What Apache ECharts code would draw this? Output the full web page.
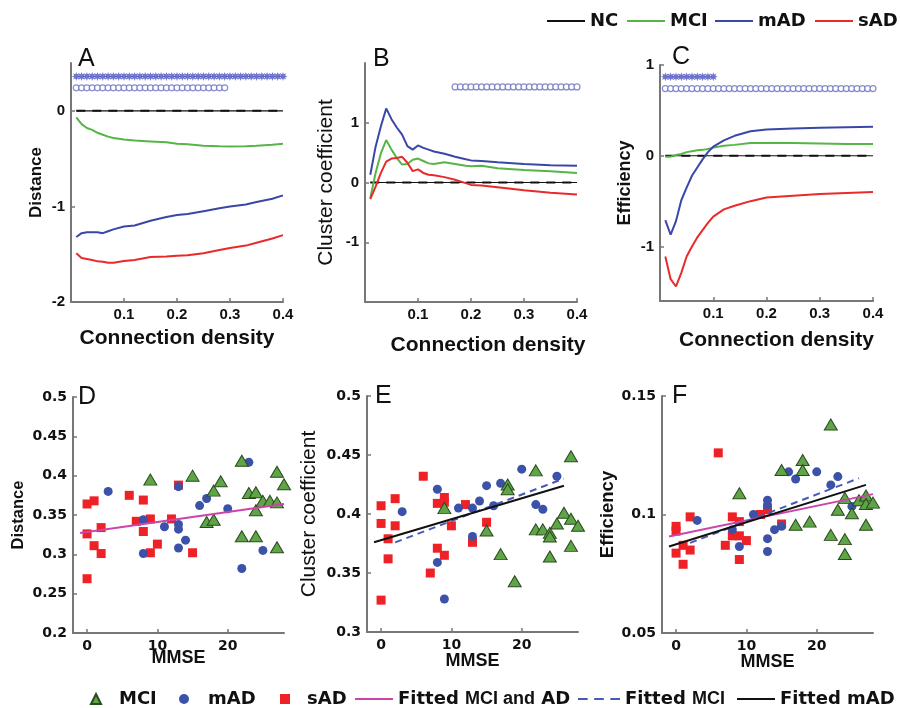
<!DOCTYPE html>
<html><head><meta charset="utf-8">
<script src="https://cdn.jsdelivr.net/npm/echarts@6/dist/echarts.min.js"></script>
<style>html,body{margin:0;padding:0;background:#fff}#c{width:900px;height:708px}</style>
</head><body><div id="c"></div><script>
// ---------- Panel A: Distance vs connection density ----------
const densA = [0.01,0.02,0.03,0.04,0.05,0.06,0.07,0.08,0.10,0.12,0.15,0.18,0.20,0.22,0.25,0.28,0.30,0.33,0.35,0.38,0.40];
const mciA  = [-0.07,-0.14,-0.18,-0.20,-0.23,-0.25,-0.27,-0.285,-0.30,-0.31,-0.32,-0.33,-0.345,-0.35,-0.365,-0.37,-0.373,-0.37,-0.365,-0.355,-0.345];
const madA  = [-1.32,-1.28,-1.27,-1.27,-1.27,-1.28,-1.26,-1.24,-1.21,-1.20,-1.15,-1.11,-1.09,-1.08,-1.05,-1.02,-1.00,-0.98,-0.955,-0.92,-0.885];
const sadA  = [-1.49,-1.54,-1.55,-1.56,-1.575,-1.58,-1.59,-1.59,-1.57,-1.56,-1.53,-1.525,-1.515,-1.51,-1.49,-1.455,-1.435,-1.41,-1.38,-1.335,-1.30];
// ---------- Panel B: Cluster coefficient ----------
const densB = [0.01,0.02,0.03,0.04,0.05,0.06,0.07,0.08,0.09,0.10,0.11,0.12,0.13,0.15,0.17,0.19,0.20,0.22,0.25,0.30,0.35,0.40];
const mciB  = [-0.26,0.16,0.49,0.71,0.55,0.41,0.30,0.31,0.38,0.40,0.36,0.32,0.31,0.34,0.31,0.28,0.27,0.28,0.24,0.21,0.19,0.16];
const madB  = [0.13,0.60,0.94,1.24,1.06,0.92,0.80,0.61,0.55,0.62,0.58,0.55,0.52,0.48,0.43,0.39,0.37,0.36,0.34,0.31,0.29,0.28];
const sadB  = [-0.28,-0.07,0.16,0.35,0.40,0.41,0.43,0.33,0.19,0.22,0.16,0.13,0.12,0.09,0.045,-0.01,-0.04,-0.05,-0.08,-0.13,-0.17,-0.20];
// ---------- Panel C: Efficiency ----------
const densC = [0.01,0.02,0.03,0.04,0.05,0.06,0.07,0.08,0.09,0.10,0.12,0.14,0.17,0.20,0.25,0.30,0.35,0.40];
const mciC  = [-0.01,-0.01,0.01,0.02,0.04,0.05,0.06,0.065,0.075,0.09,0.11,0.12,0.14,0.14,0.14,0.135,0.13,0.13];
const madC  = [-0.71,-0.87,-0.72,-0.49,-0.35,-0.22,-0.13,-0.04,0.04,0.10,0.17,0.22,0.27,0.29,0.30,0.31,0.315,0.32];
const sadC  = [-1.11,-1.36,-1.44,-1.29,-1.11,-1.00,-0.90,-0.82,-0.74,-0.67,-0.59,-0.55,-0.50,-0.46,-0.44,-0.42,-0.41,-0.40];
// NC reference (zero) line
const ncDens = [0.01,0.40];
const ncVals = [0,0];
// significance markers (densities) and their levels
const sigStarA = [0.01,0.02,0.03,0.04,0.05,0.06,0.07,0.08,0.09,0.10,0.11,0.12,0.13,0.14,0.15,0.16,0.17,0.18,0.19,0.20,0.21,0.22,0.23,0.24,0.25,0.26,0.27,0.28,0.29,0.30,0.31,0.32,0.33,0.34,0.35,0.36,0.37,0.38,0.39,0.40];
const sigCircA = [0.01,0.02,0.03,0.04,0.05,0.06,0.07,0.08,0.09,0.10,0.11,0.12,0.13,0.14,0.15,0.16,0.17,0.18,0.19,0.20,0.21,0.22,0.23,0.24,0.25,0.26,0.27,0.28,0.29];
const sigCircB = [0.17,0.18,0.19,0.20,0.21,0.22,0.23,0.24,0.25,0.26,0.27,0.28,0.29,0.30,0.31,0.32,0.33,0.34,0.35,0.36,0.37,0.38,0.39,0.40];
const sigStarC = [0.01,0.02,0.03,0.04,0.05,0.06,0.07,0.08,0.09,0.10];
const sigCircC = [0.01,0.02,0.03,0.04,0.05,0.06,0.07,0.08,0.09,0.10,0.11,0.12,0.13,0.14,0.15,0.16,0.17,0.18,0.19,0.20,0.21,0.22,0.23,0.24,0.25,0.26,0.27,0.28,0.29,0.30,0.31,0.32,0.33,0.34,0.35,0.36,0.37,0.38,0.39,0.40];
const sigLevelA = [0.36, 0.24];
const sigLevelB = [1.6];
const sigLevelC = [0.87, 0.74];
// ---------- Panel D: Distance vs MMSE ----------
const sadD = [[0,0.364],[1,0.368],[0,0.326],[1,0.311],[2,0.334],[2,0.301],[0,0.269],[6,0.375],[7,0.342],[8,0.369],[8,0.329],[9,0.345],[9,0.302],[10,0.313],[12,0.345],[13,0.388],[15,0.302]];
const madD = [[3,0.380],[8,0.344],[8,0.301],[11,0.335],[13,0.338],[13,0.332],[13,0.308],[13,0.386],[14,0.318],[16,0.362],[17,0.371],[20,0.358],[22,0.282],[23,0.417],[25,0.305]];
const mciD = [[9,0.395],[15,0.400],[18,0.381],[19,0.393],[17,0.341],[18,0.344],[22,0.419],[22,0.323],[23,0.378],[24,0.379],[24,0.356],[24,0.323],[25,0.368],[26,0.368],[27,0.405],[27,0.366],[27,0.309],[28,0.389]];
const fitAllD = [[-1,0.327],[28,0.364]];
// ---------- Panel E: Cluster coefficient vs MMSE ----------
const sadE = [[0,0.407],[0,0.392],[0,0.327],[1,0.379],[1,0.362],[2,0.390],[2,0.413],[6,0.432],[7,0.350],[8,0.409],[8,0.371],[9,0.414],[9,0.410],[9,0.365],[10,0.390],[12,0.408],[13,0.376],[15,0.393]];
const madE = [[3,0.402],[8,0.421],[8,0.359],[9,0.328],[11,0.405],[13,0.405],[13,0.381],[14,0.411],[15,0.424],[16,0.407],[17,0.426],[20,0.438],[22,0.408],[23,0.404],[25,0.432]];
const mciE = [[9,0.405],[15,0.386],[17,0.366],[18,0.425],[18,0.421],[19,0.343],[22,0.437],[22,0.387],[23,0.387],[24,0.384],[24,0.381],[24,0.364],[25,0.392],[26,0.401],[27,0.396],[27,0.373],[27,0.449],[28,0.390]];
const fitMciE = [[2,0.376],[26,0.430]];
const fitMadE = [[-1,0.376],[26,0.424]];
// ---------- Panel F: Efficiency vs MMSE ----------
const sadF = [[0,0.095],[0,0.093],[0,0.0837],[1,0.079],[1,0.087],[2,0.099],[2,0.085],[6,0.126],[7,0.087],[8,0.099],[8,0.091],[9,0.097],[9,0.091],[9,0.081],[10,0.089],[12,0.100],[13,0.102],[15,0.096]];
const madF = [[3,0.0975],[8,0.0936],[9,0.0865],[11,0.100],[13,0.106],[13,0.104],[13,0.0898],[13,0.0844],[14,0.0936],[15,0.095],[16,0.118],[17,0.115],[20,0.118],[22,0.1125],[23,0.116],[25,0.1034]];
const mciF = [[9,0.109],[15,0.1188],[17,0.0957],[18,0.123],[18,0.1188],[19,0.097],[22,0.138],[22,0.0914],[23,0.102],[24,0.107],[24,0.0896],[24,0.0833],[25,0.1005],[26,0.106],[27,0.108],[27,0.1044],[27,0.0957],[28,0.105]];
const fitAllF = [[-1,0.0907],[28,0.1086]];
const fitMciF = [[2,0.088],[26,0.1153]];
const fitMadF = [[-1,0.0865],[27,0.1125]];
// ---------- tick labels ----------
const densTicks = [0.1,0.2,0.3,0.4];
const yTicksA = [-2,-1,0];
const yTicksB = [-1,0,1];
const yTicksC = [-1,0,1];
const mmseTicks = [0,10,20];
const yTicksD = [0.2,0.25,0.3,0.35,0.4,0.45,0.5];
const yTicksE = [0.3,0.35,0.4,0.45,0.5];
const yTicksF = [0.05,0.1,0.15];

const AR = 'Liberation Sans, Arial, sans-serif';
const DJ = 'DejaVu Sans, sans-serif';
const C = {nc:'#111111', mci:'#57b548', mad:'#3a47a8', sad:'#e82a2b', sig:'#4b52c0', tri:'#5ea548', triB:'#2b4a1e', dot:'#3b52a8', sq:'#ee2226', mag:'#cc44aa', dash:'#4a5ab4'};
const AX = '#777777';
const zip = (xs, ys) => xs.map((x, i) => [x, ys[i]]);
const lvl = (xs, v) => xs.map(x => [x, v]);

function xTop(gi, gap, pad) {
  return {type:'value', gridIndex:gi, min:0, max:0.4, name:'Connection density', nameLocation:'middle', nameGap:gap, nameMoveOverlap:false,
    nameTextStyle:{fontFamily:AR, fontWeight:'bold', fontSize:21, color:'#111', padding:[0,0,0,pad]},
    axisLine:{show:true, onZero:false, lineStyle:{color:AX, width:2}},
    axisTick:{show:true, inside:true, length:4, customValues:densTicks, lineStyle:{color:AX, width:1.5}},
    axisLabel:{customValues:densTicks, fontFamily:AR, fontWeight:'bold', fontSize:15, color:'#111', margin:5},
    splitLine:{show:false}};
}
function xBot(gi, gap) {
  return {type:'value', gridIndex:gi, min:-2, max:28, name:'MMSE', nameLocation:'middle', nameGap:gap, nameMoveOverlap:false,
    nameTextStyle:{fontFamily:AR, fontWeight:'bold', fontSize:18, color:'#111'},
    axisLine:{show:true, onZero:false, lineStyle:{color:AX, width:2}},
    axisTick:{show:true, inside:true, length:4, customValues:mmseTicks, lineStyle:{color:AX, width:1.5}},
    axisLabel:{customValues:mmseTicks, fontFamily:DJ, fontWeight:'bold', fontSize:14, color:'#111', margin:6},
    splitLine:{show:false}};
}
function yAx(gi, min, max, ticks, name, gap, font, size, weight, labFont, labSize) {
  return {type:'value', gridIndex:gi, min, max, name, nameLocation:'middle', nameRotate:90, nameGap:gap, nameMoveOverlap:false,
    nameTextStyle:{fontFamily:font, fontWeight:weight, fontSize:size, color:'#111'},
    axisLine:{show:true, onZero:false, lineStyle:{color:AX, width:2}},
    axisTick:{show:true, inside:true, length:4, customValues:ticks, lineStyle:{color:AX, width:1.5}},
    axisLabel:{customValues:ticks, fontFamily:labFont, fontWeight:'bold', fontSize:labSize, color:'#111', margin:6},
    splitLine:{show:false}};
}
function line(name, gi, data, color, width, type, z) {
  return {type:'line', name, xAxisIndex:gi, yAxisIndex:gi, data, symbol:'none', silent:true,
    lineStyle:{color, width, type:type || 'solid'}, itemStyle:{color}, z:z || 3};
}
function pts(name, gi, data, symbol, size, color, border) {
  return {type:'scatter', name, xAxisIndex:gi, yAxisIndex:gi, data, symbol, symbolSize:size, silent:true,
    itemStyle:{color, borderColor:border || color, borderWidth:border ? 1 : 0, opacity:1}, z:4};
}
const starPath = 'path://M20,10 L14.6,11.9 L17.07,17.07 L11.9,14.6 L10,20 L8.1,14.6 L2.93,17.07 L5.4,11.9 L0,10 L5.4,8.1 L2.93,2.93 L8.1,5.4 L10,0 L11.9,5.4 L17.07,2.93 L14.6,8.1 Z';
function sigStars(gi, xs, v) {
  return {type:'scatter', name:'_star'+gi, xAxisIndex:gi, yAxisIndex:gi, data:lvl(xs, v), symbol:starPath, symbolSize:9, silent:true,
    itemStyle:{color:C.sig}, z:5};
}
function sigCircs(gi, xs, v) {
  return {type:'scatter', name:'_circ'+gi, xAxisIndex:gi, yAxisIndex:gi, data:lvl(xs, v), symbol:'circle', symbolSize:6, silent:true,
    itemStyle:{color:'#ffffff', borderColor:'#6870c4', borderWidth:1.2}, z:5};
}
const grids = [
  {left:71, top:63, width:212, height:239},
  {left:365, top:63, width:212, height:239},
  {left:660, top:65, width:213, height:236},
  {left:73, top:397, width:211, height:236},
  {left:367, top:396, width:211, height:236},
  {left:662, top:396, width:211, height:237}
].map(g => Object.assign({outerBoundsMode:'none', containLabel:false}, g));

const solidIcon = 'path://M0,0H40V2H0Z';
const dashIcon = 'path://M0,0H9V2H0Z M15,0H24V2H15Z M30,0H39V2H30Z';
const legText = {fontFamily:DJ, fontWeight:'bold', fontSize:18, color:'#111', lineHeight:18};
function leg(name, left, top, w, h, extra) {
  return Object.assign({data:[name], left, top, padding:0, itemWidth:w, itemHeight:h, itemGap:0, selectedMode:false, textStyle:legText}, extra || {});
}
const botLabels = {'MCI pts':'MCI', 'mAD pts':'mAD', 'sAD pts':'sAD'};
const richT = {b:{fontFamily:DJ, fontWeight:'bold', fontSize:18, color:'#111', lineHeight:18}, n:{fontFamily:AR, fontSize:18, color:'#111', lineHeight:18}};

const option = {
  animation:false,
  backgroundColor:'#ffffff',
  grid:grids,
  xAxis:[xTop(0, 26, 0), xTop(1, 33, 34), xTop(2, 29, 20), xBot(3, 16), xBot(4, 20), xBot(5, 20)],
  yAxis:[
    yAx(0, -2, 0.5, yTicksA, 'Distance', 26, AR, 17, 'bold', AR, 15),
    yAx(1, -2, 2, yTicksB, 'Cluster coefficient', 28, AR, 21, 'normal', AR, 15),
    yAx(2, -1.6, 1, yTicksC, 'Efficiency', 26, AR, 18, 'bold', AR, 15),
    yAx(3, 0.2, 0.5, yTicksD, 'Distance', 46, AR, 16.5, 'bold', DJ, 14),
    yAx(4, 0.3, 0.5, yTicksE, 'Cluster coefficient', 47, AR, 21, 'normal', DJ, 14),
    yAx(5, 0.05, 0.15, yTicksF, 'Efficiency', 45, AR, 18.5, 'bold', DJ, 14)
  ],
  legend:[
    leg('NC', 547, 12, 38, 14, {icon:solidIcon}),
    leg('MCI', 627, 12, 38, 14, {icon:solidIcon}),
    leg('mAD', 715, 12, 38, 14, {icon:solidIcon}),
    leg('sAD', 815, 12, 38, 14, {icon:solidIcon}),
    leg('MCI pts', 90, 690, 10, 10, {formatter:n => botLabels[n], textStyle:Object.assign({}, legText, {padding:[0,0,0,13]})}),
    leg('mAD pts', 179, 690, 10, 10, {formatter:n => botLabels[n], textStyle:Object.assign({}, legText, {padding:[0,0,0,14]})}),
    leg('sAD pts', 280, 690, 10, 10, {formatter:n => botLabels[n], textStyle:Object.assign({}, legText, {padding:[0,0,0,12]})}),
    leg('Fitted MCI and AD', 355, 690, 38, 14, {icon:solidIcon, formatter:() => '{b|Fitted} {n|MCI and} {b|AD}', textStyle:Object.assign({}, legText, {rich:richT})}),
    leg('Fitted MCI', 578, 690, 42, 14, {icon:dashIcon, formatter:() => '{b|Fitted} {n|MCI}', textStyle:Object.assign({}, legText, {rich:richT})}),
    leg('Fitted mAD', 737, 690, 38, 14, {icon:solidIcon, formatter:() => 'Fitted mAD'})
  ],
  graphic:[
    ['A',78,59.5],['B',373,59],['C',672,57.5],['D',78,397.5],['E',375,396.5],['F',672,396.5]
  ].map(([t,x,y]) => ({type:'text', x, y, silent:true, style:{text:t, fontFamily:AR, fontSize:25, fill:'#111', textVerticalAlign:'middle'}})),
  series:[
    // A
    line('NC', 0, zip(ncDens, ncVals), C.nc, 1.2),
    line('_ncA', 0, zip(ncDens, ncVals), C.nc, 2, [9,7]),
    line('MCI', 0, zip(densA, mciA), C.mci, 2),
    line('mAD', 0, zip(densA, madA), C.mad, 2),
    line('sAD', 0, zip(densA, sadA), C.sad, 2),
    sigStars(0, sigStarA, sigLevelA[0]),
    sigCircs(0, sigCircA, sigLevelA[1]),
    // B
    line('NC', 1, zip(ncDens, ncVals), C.nc, 1.2),
    line('_ncB', 1, zip(ncDens, ncVals), C.nc, 2, [9,7]),
    line('MCI', 1, zip(densB, mciB), C.mci, 2),
    line('mAD', 1, zip(densB, madB), C.mad, 2),
    line('sAD', 1, zip(densB, sadB), C.sad, 2),
    sigCircs(1, sigCircB, sigLevelB[0]),
    // C
    line('NC', 2, zip(ncDens, ncVals), C.nc, 1.2),
    line('_ncC', 2, zip(ncDens, ncVals), C.nc, 2, [9,7]),
    line('MCI', 2, zip(densC, mciC), C.mci, 2),
    line('mAD', 2, zip(densC, madC), C.mad, 2),
    line('sAD', 2, zip(densC, sadC), C.sad, 2),
    sigStars(2, sigStarC, sigLevelC[0]),
    sigCircs(2, sigCircC, sigLevelC[1]),
    // D
    pts('sAD pts', 3, sadD, 'rect', 9, C.sq),
    pts('mAD pts', 3, madD, 'circle', 9, C.dot),
    pts('MCI pts', 3, mciD, 'triangle', [13,11], C.tri, C.triB),
    line('Fitted MCI and AD', 3, fitAllD, C.mag, 2, 'solid', 6),
    // E
    pts('sAD pts', 4, sadE, 'rect', 9, C.sq),
    pts('mAD pts', 4, madE, 'circle', 9, C.dot),
    pts('MCI pts', 4, mciE, 'triangle', [13,11], C.tri, C.triB),
    line('Fitted MCI', 4, fitMciE, C.dash, 2, [7,5], 6),
    line('Fitted mAD', 4, fitMadE, C.nc, 2, 'solid', 6),
    // F
    pts('sAD pts', 5, sadF, 'rect', 9, C.sq),
    pts('mAD pts', 5, madF, 'circle', 9, C.dot),
    pts('MCI pts', 5, mciF, 'triangle', [13,11], C.tri, C.triB),
    line('Fitted MCI and AD', 5, fitAllF, C.mag, 2, 'solid', 6),
    line('Fitted MCI', 5, fitMciF, C.dash, 2, [7,5], 6),
    line('Fitted mAD', 5, fitMadF, C.nc, 2, 'solid', 6)
  ]
};
const chart = echarts.init(document.getElementById('c'), null, {renderer:'canvas'});
chart.setOption(option);
</script></body></html>
